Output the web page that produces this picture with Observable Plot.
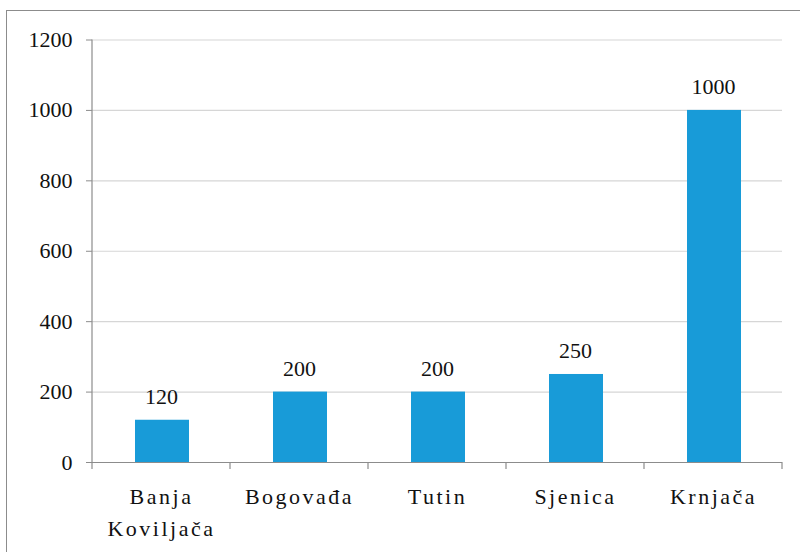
<!DOCTYPE html>
<html>
<head>
<meta charset="utf-8">
<script src="https://cdn.jsdelivr.net/npm/d3@7"></script>
<script src="https://cdn.jsdelivr.net/npm/@observablehq/plot@0.6"></script>
<style>
  html, body { margin: 0; padding: 0; background: #fff; }
  #wrap { position: relative; width: 800px; height: 552px; overflow: hidden; }
  #frame {
    position: absolute; left: 6px; top: 10px; width: 900px; height: 700px;
    border-left: 1.5px solid #8c8c8c; border-top: 1.5px solid #8c8c8c;
  }
  #chart { position: absolute; left: 0; top: 0; }
  #chart svg, #chart svg text { font-family: "Liberation Serif", "Times New Roman", serif !important; }
</style>
</head>
<body>
<div id="wrap"><div id="frame"></div><div id="chart"></div></div>
<script>
// Places and their values
const places = ["Banja\nKoviljača", "Bogovađa", "Tutin", "Sjenica", "Krnjača"];
const values = [120, 200, 200, 250, 1000];
const yTicks = [0, 200, 400, 600, 800, 1000, 1200];

const rows = places.map((place, i) => ({place, value: values[i]}));

const serif = "Liberation Serif";
const axisColor = "#8c8c8c";

// Short ticks below the baseline at the edges between categories
function boundaryTicks(index, scales) {
  const x = scales.x, y = scales.y;
  const step = x(places[1]) - x(places[0]);
  const y0 = y(0);
  const g = d3.create("svg:g").attr("stroke", axisColor).attr("stroke-width", 1.2);
  const edges = places.map(p => x(p)).concat([x(places[places.length - 1]) + step]);
  for (const ex of edges) {
    if (!isFinite(ex)) continue;
    g.append("line").attr("x1", ex).attr("x2", ex).attr("y1", y0).attr("y2", y0 + 7);
  }
  return g.node();
}

// Vertical axis line from 0 up to the top tick
function axisLineY(index, scales) {
  const x0 = scales.x(places[0]);
  return d3.create("svg:line")
    .attr("x1", x0).attr("x2", x0)
    .attr("y1", scales.y(1200)).attr("y2", scales.y(0))
    .attr("stroke", axisColor).attr("stroke-width", 1.2).node();
}

const chart = Plot.plot({
  width: 800,
  height: 552,
  marginLeft: 92,
  marginRight: 18,
  marginTop: 39.5,
  marginBottom: 90,
  style: {background: "transparent", overflow: "visible"},
  x: {domain: places, padding: 0, label: null},
  y: {domain: [0, 1200], label: null},
  marks: [
    Plot.gridY(yTicks.filter(t => t > 0), {stroke: "#d6d6d6", strokeOpacity: 1, strokeWidth: 1.2}),
    Plot.barY(rows, {x: "place", y: "value", fill: "#189bd8", insetLeft: 43, insetRight: 41}),
    Plot.text(rows, {
      x: "place", y: "value", text: d => String(d.value),
      dy: -16, lineAnchor: "bottom", fontSize: 22, fill: "#111", fontFamily: serif
    }),
    Plot.ruleY([0], {stroke: axisColor, strokeWidth: 1.2}),
    Plot.axisY({
      ticks: yTicks, tickSize: 6, tickPadding: 14, fontSize: 22, fontFamily: serif,
      stroke: axisColor, fill: "#111", tickFormat: d => String(d)
    }),
    Plot.axisX({
      tickSize: 0, tickPadding: 19, fontSize: 22, lineHeight: 1.45, fontFamily: serif,
      fill: "#111"
    }),
    boundaryTicks,
    axisLineY
  ]
});

chart.querySelectorAll('[aria-label="x-axis tick label"] text').forEach(t => t.setAttribute("letter-spacing", "2.5"));
document.getElementById("chart").append(chart);
</script>
</body>
</html>
